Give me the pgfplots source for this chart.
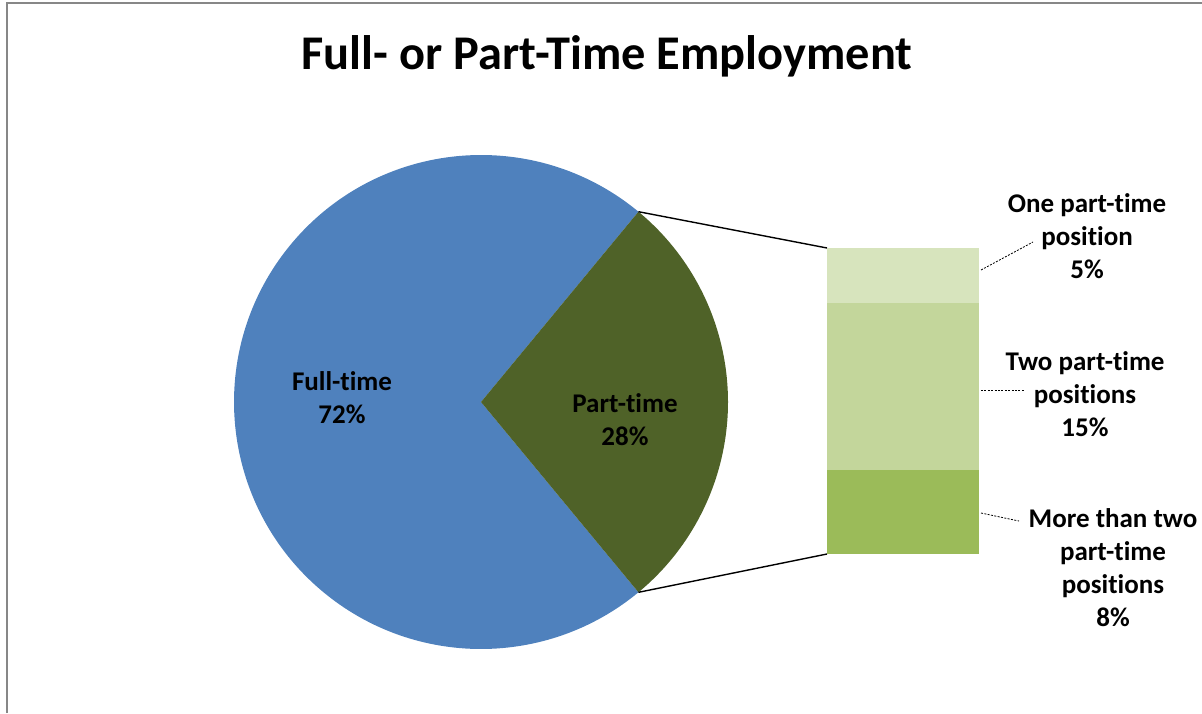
\documentclass[border=0pt]{standalone}
\usepackage{pgfplots}
\pgfplotsset{compat=1.18}
\usepackage{pgfplotstable}
\usepackage{fontspec}
\setmainfont[Ligatures={NoCommon}]{Carlito}
\definecolor{fullblue}{HTML}{4F81BD}
\definecolor{partgreen}{HTML}{4F6228}
\definecolor{segone}{HTML}{D7E4BD}
\definecolor{segtwo}{HTML}{C3D69B}
\definecolor{segmore}{HTML}{9BBB59}
\definecolor{framegray}{HTML}{878787}
\pgfplotstableread{
label value
Full 72
Part 28
}\pietable
\begin{document}
\begin{tikzpicture}
\useasboundingbox (0,0) rectangle (601pt,356.5pt);
\pgfplotstablegetelem{1}{value}\of\pietable
\pgfmathsetmacro\halfang{\pgfplotsretval*3.6/2}
\pgfmathsetmacro\otherang{360-\halfang}
\begin{axis}[
  at={(0,0)}, anchor=south west,
  scale only axis, width=601pt, height=356.5pt,
  xmin=0, xmax=1202, ymin=0, ymax=713,
  hide axis, clip=false,
]
% frame
\draw[framegray, line width=1pt] (axis cs:7,0) -- (axis cs:7,709.5) -- (axis cs:1202,709.5);
% pie
\fill[fullblue] (axis cs:481,311) -- ++(\halfang:123.5pt) arc[start angle=\halfang, end angle=\otherang, radius=123.5pt] -- cycle;
\fill[partgreen] (axis cs:481,311) -- ++(-\halfang:123.5pt) arc[start angle=-\halfang, end angle=\halfang, radius=123.5pt] -- cycle;
% connectors
\draw[black, line width=0.7pt] (axis cs:481,311) ++(\halfang:123.5pt) -- (axis cs:827,465);
\draw[black, line width=0.7pt] (axis cs:481,311) ++(-\halfang:123.5pt) -- (axis cs:827,159);
% leader lines
\draw[black, line width=0.4pt, dash pattern=on 1pt off 0.7pt] (axis cs:981,443) -- (axis cs:1033,471);
\draw[black, line width=0.4pt, dash pattern=on 1pt off 0.7pt] (axis cs:981,323) -- (axis cs:1025,323);
\draw[black, line width=0.4pt, dash pattern=on 1pt off 0.7pt] (axis cs:981,200) -- (axis cs:1019,192);
% texts
\node[font=\bfseries\fontsize{24.2}{28}\selectfont] at (axis cs:607,657) {Full- or Part-Time Employment};
\node[align=center, font=\bfseries\fontsize{13.5}{16.5}\selectfont] at (axis cs:342,315) {Full-time\\72\%};
\node[align=center, font=\bfseries\fontsize{13.5}{16.5}\selectfont] at (axis cs:625,293) {Part-time\\28\%};
\node[align=center, font=\bfseries\fontsize{13.5}{16.5}\selectfont] at (axis cs:1087,477) {One part-time\\position\\5\%};
\node[align=center, font=\bfseries\fontsize{13.5}{16.5}\selectfont] at (axis cs:1085,319) {Two part-time\\positions\\15\%};
\node[align=center, font=\bfseries\fontsize{13.5}{16.5}\selectfont] at (axis cs:1113,145) {More than two\\part-time\\positions\\8\%};
\end{axis}
\begin{axis}[
  at={(413.5pt,79.5pt)}, anchor=south west,
  scale only axis, width=76pt, height=153pt,
  xmin=-0.5, xmax=0.5, ymin=0, ymax=28,
  ybar stacked, bar width=76pt,
  hide axis,
]
\addplot[fill=segmore, draw=none] coordinates {(0,7.7)};
\addplot[fill=segtwo, draw=none] coordinates {(0,15.3)};
\addplot[fill=segone, draw=none] coordinates {(0,5.0)};
\end{axis}
\end{tikzpicture}
\end{document}
